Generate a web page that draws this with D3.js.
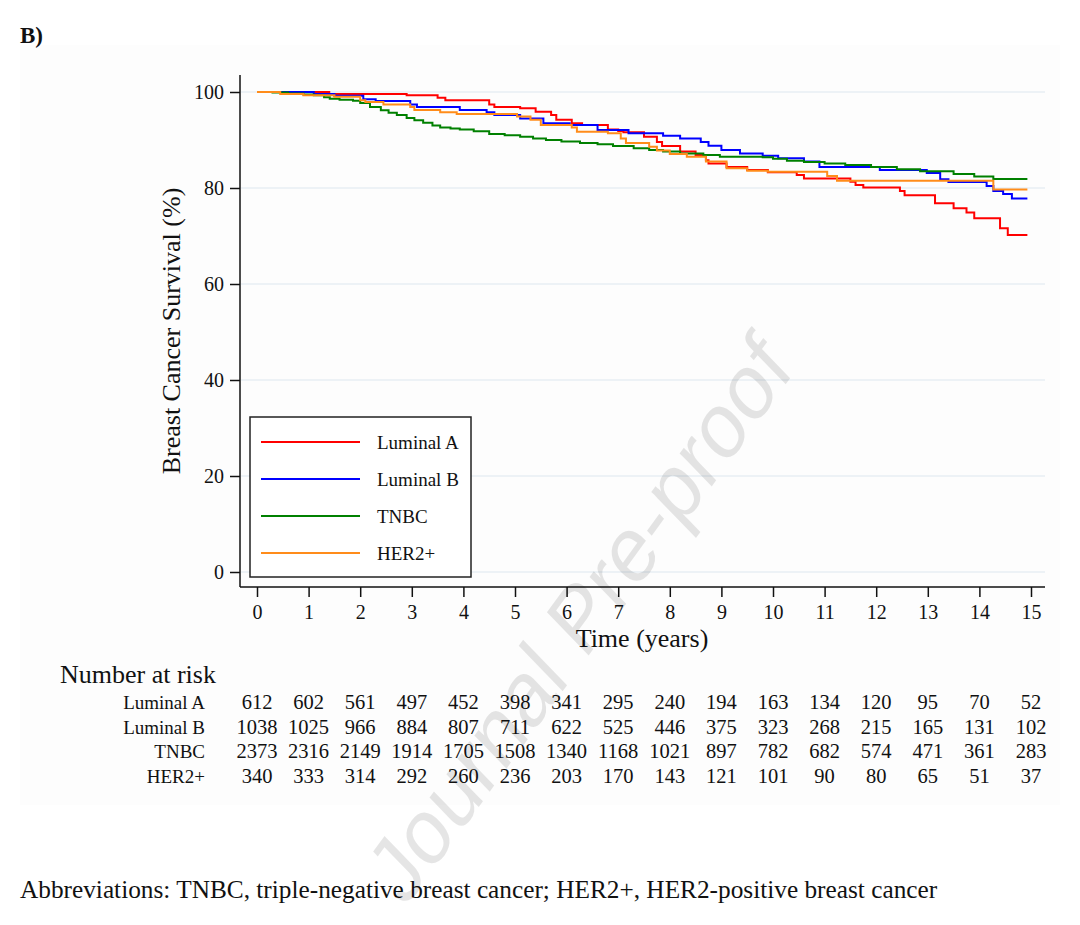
<!DOCTYPE html>
<html>
<head>
<meta charset="utf-8">
<script src="https://cdnjs.cloudflare.com/ajax/libs/d3/7.8.5/d3.min.js"></script>
<style>
  body { margin: 0; background: #fff; }
  svg { display: block; }
  text { font-family: "Liberation Serif", "Times New Roman", serif; fill: #111; }
</style>
</head>
<body>
<div id="chart"></div>
<script>
// Tamaño del lienzo
const width = 1080;
const height = 925;

// Curvas de supervivencia: [tiempo (años), supervivencia (%)]
const lumA = [[0,100],[1.4,99.6],[2.9,99.3],[3.5,98.8],[3.65,98.3],[4.5,97.4],[4.6,96.9],[5.1,96.6],
  [5.4,95.9],[5.7,95.2],[5.8,94.2],[6.1,93.5],[6.3,93.1],[6.8,92.2],[7.0,91.9],[7.1,91.6],[7.5,90.7],
  [7.75,89.6],[7.85,88.75],[8.2,87.6],[8.5,86.9],[8.7,85.8],[8.75,85.1],[9.1,84.4],[9.5,83.75],
  [9.9,83.3],[10.46,82.7],[10.6,82.0],[11.5,81.3],[11.6,80.6],[11.75,80.1],[12.46,79.4],[12.55,78.5],
  [13.14,76.8],[13.5,75.8],[13.75,74.9],[13.9,73.7],[14.4,71.6],[14.55,70.2],[14.93,70.2]];
const lumB = [[0,100],[1.1,99.6],[1.5,99.2],[2.06,98.5],[2.3,98.1],[2.97,97.4],[3.1,96.9],[3.93,96.25],
  [4.45,95.8],[4.6,95.2],[5.1,94.5],[5.55,93.5],[6.06,93.1],[6.6,92.1],[7.2,91.4],[7.87,90.9],[8.2,90.3],
  [8.6,89.6],[8.75,88.8],[9.0,87.9],[9.36,87.2],[9.8,86.7],[10.1,86.2],[10.6,85.5],[10.9,84.4],
  [12.07,83.75],[12.98,83.1],[13.24,81.8],[13.4,81.25],[14.14,80.4],[14.27,79.4],[14.46,78.75],
  [14.63,77.8],[14.93,77.8]];
const tnbc = [[0,100],[0.3,99.9],[0.6,99.7],[0.9,99.5],[1.1,99.3],[1.3,98.9],[1.41,98.6],[1.6,98.4],
  [1.86,98.2],[2.0,97.7],[2.19,96.9],[2.4,96.2],[2.55,95.7],[2.71,95.2],[2.9,94.6],[3.05,94.1],
  [3.22,93.6],[3.4,93.0],[3.55,92.6],[3.75,92.4],[3.93,92.2],[4.2,91.8],[4.5,91.25],[4.8,91.0],
  [5.1,90.7],[5.35,90.3],[5.6,90.0],[5.9,89.7],[6.26,89.4],[6.6,89.1],[6.9,88.75],[7.3,88.3],
  [7.6,87.9],[7.87,87.6],[8.2,87.2],[8.65,86.9],[8.97,86.5],[9.8,86.4],[10.0,86.1],[10.27,85.7],
  [10.6,85.4],[11.0,85.1],[11.4,84.8],[11.9,84.4],[12.4,83.9],[12.85,83.5],[13.5,82.9],[13.9,82.4],
  [14.27,81.9],[14.93,81.9]];
const her2 = [[0,100],[0.45,99.6],[0.9,99.3],[1.5,99.0],[2.0,98.3],[2.1,97.9],[2.45,97.4],[2.97,96.9],
  [3.05,96.25],[3.55,95.8],[3.87,95.4],[5.04,94.9],[5.3,94.2],[5.5,93.1],[6.1,92.6],[6.2,91.7],
  [6.8,91.4],[7.05,90.3],[7.15,89.4],[7.6,88.6],[7.75,87.8],[8.0,87.1],[8.33,86.5],[8.7,85.5],
  [9.1,84.1],[9.5,83.6],[9.9,83.4],[11.05,82.5],[11.24,81.5],[14.27,79.7],[14.93,79.7]];

const groupNames = ["Luminal A", "Luminal B", "TNBC", "HER2+"];

// Ejes
const yearTicks = [0,1,2,3,4,5,6,7,8,9,10,11,12,13,14,15];
const survTicks = [0,20,40,60,80,100];

// Número en riesgo por año
const riskLumA = [612,602,561,497,452,398,341,295,240,194,163,134,120,95,70,52];
const riskLumB = [1038,1025,966,884,807,711,622,525,446,375,323,268,215,165,131,102];
const riskTnbc = [2373,2316,2149,1914,1705,1508,1340,1168,1021,897,782,682,574,471,361,283];
const riskHer2 = [340,333,314,292,260,236,203,170,143,121,101,90,80,65,51,37];

const curves = [lumA, lumB, tnbc, her2];
const risks = [riskLumA, riskLumB, riskTnbc, riskHer2];
const lineColors = ["#ff0000", "#0000ff", "#008000", "#ff8c1a"];

// Escalas
const x = d3.scaleLinear().domain([0, 15]).range([257, 1031]);
const y = d3.scaleLinear().domain([0, 100]).range([572, 92]);

const svg = d3.select("#chart").append("svg")
  .attr("width", width)
  .attr("height", height);

svg.append("rect")
  .attr("x", 20).attr("y", 45).attr("width", 1040).attr("height", 760)
  .attr("fill", "#fdfdfd");

svg.append("text")
  .attr("x", 20).attr("y", 43)
  .attr("font-size", 23).attr("font-weight", "bold")
  .text("B)");

// Rejilla horizontal
svg.append("g").selectAll("line")
  .data(survTicks)
  .join("line")
  .attr("x1", 241).attr("x2", 1045)
  .attr("y1", d => y(d)).attr("y2", d => y(d))
  .attr("stroke", "#e7eef3").attr("stroke-width", 1.6);

// Eje Y
const yAxis = svg.append("g")
  .attr("transform", "translate(240,0)")
  .call(d3.axisLeft(y).tickValues(survTicks).tickSize(10).tickPadding(6));
yAxis.select(".domain").remove();
yAxis.selectAll(".tick line").attr("stroke", "#111").attr("stroke-width", 1.5);
yAxis.selectAll(".tick text").attr("font-size", 20).attr("dy", "0.34em");

svg.append("line")
  .attr("x1", 240).attr("x2", 240).attr("y1", 75).attr("y2", 587)
  .attr("stroke", "#111").attr("stroke-width", 1.5);

// Eje X
const xAxis = svg.append("g")
  .attr("transform", "translate(0,587)")
  .call(d3.axisBottom(x).tickValues(yearTicks).tickSize(10).tickPadding(8));
xAxis.select(".domain").remove();
xAxis.selectAll(".tick line").attr("stroke", "#111").attr("stroke-width", 1.5);
xAxis.selectAll(".tick text").attr("font-size", 20);

svg.append("line")
  .attr("x1", 240).attr("x2", 1045).attr("y1", 587).attr("y2", 587)
  .attr("stroke", "#111").attr("stroke-width", 1.5);

// Títulos de ejes
svg.append("text")
  .attr("transform", "translate(180,331) rotate(-90)")
  .attr("text-anchor", "middle").attr("font-size", 26)
  .text("Breast Cancer Survival (%)");

svg.append("text")
  .attr("x", 642).attr("y", 647)
  .attr("text-anchor", "middle").attr("font-size", 26)
  .text("Time (years)");

// Curvas Kaplan-Meier
const line = d3.line()
  .x(d => x(d[0]))
  .y(d => y(d[1]))
  .curve(d3.curveStepAfter);

svg.append("g").selectAll("path")
  .data(curves)
  .join("path")
  .attr("d", line)
  .attr("fill", "none")
  .attr("stroke", (d, i) => lineColors[i])
  .attr("stroke-width", 2);

// Leyenda
const legend = svg.append("g");
legend.append("rect")
  .attr("x", 250).attr("y", 417).attr("width", 221).attr("height", 160)
  .attr("fill", "#fff").attr("stroke", "#222").attr("stroke-width", 1.5);
groupNames.forEach((name, i) => {
  const ly = 442 + i * 37;
  legend.append("line")
    .attr("x1", 261).attr("x2", 360).attr("y1", ly).attr("y2", ly)
    .attr("stroke", lineColors[i]).attr("stroke-width", 2);
  legend.append("text")
    .attr("x", 377).attr("y", ly + 6.5)
    .attr("font-size", 19)
    .text(name);
});

// Tabla de número en riesgo
svg.append("text")
  .attr("x", 60).attr("y", 683)
  .attr("font-size", 26)
  .text("Number at risk");

groupNames.forEach((name, i) => {
  const ry = 709 + i * 24.5;
  svg.append("text")
    .attr("x", 205).attr("y", ry)
    .attr("text-anchor", "end").attr("font-size", 19)
    .text(name);
  svg.append("g").selectAll("text")
    .data(risks[i])
    .join("text")
    .attr("x", (d, j) => x(yearTicks[j]))
    .attr("y", ry)
    .attr("text-anchor", "middle").attr("font-size", 20.5)
    .text(d => d);
});

svg.append("text")
  .attr("x", 20).attr("y", 898)
  .attr("font-size", 25.3)
  .text("Abbreviations: TNBC, triple-negative breast cancer; HER2+, HER2-positive breast cancer");

// Marca de agua
svg.append("text")
  .attr("transform", "translate(600,640) rotate(-54) skewX(-10)")
  .attr("text-anchor", "middle")
  .style("font-family", "'Liberation Sans', Arial, sans-serif")
  .attr("font-size", 86)
  .style("fill", "#000").style("fill-opacity", 0.1)
  .text("Journal Pre-proof");
</script>
</body>
</html>
